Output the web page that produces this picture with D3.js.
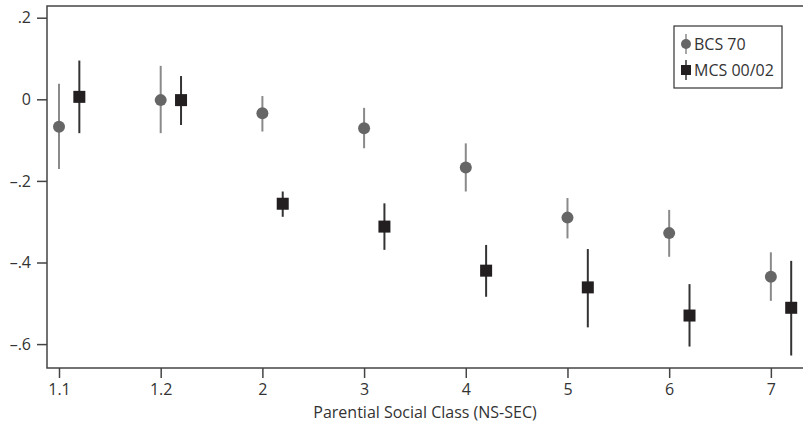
<!DOCTYPE html>
<html>
<head>
<meta charset="utf-8">
<script src="https://cdn.jsdelivr.net/npm/d3@7"></script>
<style>
  body { margin: 0; background: #fff; }
  text { font-family: "Open Sans", "Noto Sans", sans-serif; fill: #333; }
</style>
</head>
<body>
<svg id="chart"></svg>
<script>
// categories (NS-SEC)
const classes = ["1.1", "1.2", "2", "3", "4", "5", "6", "7"];

// BCS 70: estimate with lower / upper CI
const bcsEst = [-0.067, -0.002, -0.034, -0.071, -0.167, -0.290, -0.328, -0.435];
const bcsLo  = [-0.171, -0.083, -0.079, -0.120, -0.226, -0.341, -0.386, -0.494];
const bcsHi  = [ 0.038,  0.082,  0.008, -0.021, -0.108, -0.242, -0.271, -0.375];

// MCS 00/02
const mcsEst = [ 0.006, -0.002, -0.256, -0.312, -0.420, -0.461, -0.530, -0.511];
const mcsLo  = [-0.083, -0.063, -0.288, -0.369, -0.484, -0.559, -0.606, -0.628];
const mcsHi  = [ 0.095,  0.057, -0.226, -0.255, -0.357, -0.367, -0.453, -0.396];

const yTicks = [0.2, 0, -0.2, -0.4, -0.6];
const yLabels = [".2", "0", "\u2013.2", "\u2013.4", "\u2013.6"];

const width = 803, height = 434;
const margin = {top: 6, right: 0, bottom: 66, left: 47};

const svg = d3.select("#chart")
  .attr("width", width)
  .attr("height", height);

const x = d3.scaleLinear()
  .domain([-0.118, 7.316])
  .range([margin.left, width - margin.right]);
const y = d3.scaleLinear()
  .domain([-0.6586, 0.2287])
  .range([height - margin.bottom, margin.top]);

const offset = 0.2; // MCS shifted right of BCS

// frame
const frame = svg.append("g")
  .attr("stroke", "#444")
  .attr("stroke-width", 1.5)
  .attr("fill", "none");
frame.append("path")
  .attr("d", `M${width},${margin.top}H${margin.left}V${height - margin.bottom}H${width}`);

// y axis
const yAxis = g => g
  .attr("transform", `translate(${margin.left},0)`)
  .call(d3.axisLeft(y)
    .tickValues(yTicks)
    .tickSize(10)
    .tickPadding(6)
    .tickFormat((d, i) => yLabels[i]))
  .call(g => g.select(".domain").remove())
  .call(g => g.selectAll(".tick line").attr("stroke", "#444").attr("stroke-width", 1.5))
  .call(g => g.selectAll(".tick text")
    .attr("font-size", 16)
    .attr("font-family", "'Open Sans', sans-serif")
    .attr("fill", "#333"));

// x axis
const xAxis = g => g
  .attr("transform", `translate(0,${height - margin.bottom})`)
  .call(d3.axisBottom(x)
    .tickValues(d3.range(classes.length))
    .tickSize(10)
    .tickPadding(6)
    .tickFormat(i => classes[i]))
  .call(g => g.select(".domain").remove())
  .call(g => g.selectAll(".tick line").attr("stroke", "#444").attr("stroke-width", 1.5))
  .call(g => g.selectAll(".tick text")
    .attr("font-size", 16)
    .attr("font-family", "'Open Sans', sans-serif")
    .attr("fill", "#333"));

svg.append("g").call(yAxis);
svg.append("g").call(xAxis);

svg.append("text")
  .attr("x", (margin.left + width) / 2 - 0)
  .attr("y", 418)
  .attr("text-anchor", "middle")
  .attr("font-size", 16)
  .text("Parential Social Class (NS-SEC)");

// BCS 70
const bcs = svg.append("g");
bcs.selectAll("line")
  .data(classes)
  .join("line")
  .attr("x1", (d, i) => x(i))
  .attr("x2", (d, i) => x(i))
  .attr("y1", (d, i) => y(bcsLo[i]))
  .attr("y2", (d, i) => y(bcsHi[i]))
  .attr("stroke", "#8a8a8a")
  .attr("stroke-width", 2);
bcs.selectAll("circle")
  .data(classes)
  .join("circle")
  .attr("cx", (d, i) => x(i))
  .attr("cy", (d, i) => y(bcsEst[i]))
  .attr("r", 6)
  .attr("fill", "#666");

// MCS 00/02
const mcs = svg.append("g");
mcs.selectAll("line")
  .data(classes)
  .join("line")
  .attr("x1", (d, i) => x(i + offset))
  .attr("x2", (d, i) => x(i + offset))
  .attr("y1", (d, i) => y(mcsLo[i]))
  .attr("y2", (d, i) => y(mcsHi[i]))
  .attr("stroke", "#333")
  .attr("stroke-width", 2);
mcs.selectAll("rect")
  .data(classes)
  .join("rect")
  .attr("x", (d, i) => x(i + offset) - 6)
  .attr("y", (d, i) => y(mcsEst[i]) - 6)
  .attr("width", 12)
  .attr("height", 12)
  .attr("fill", "#231f20");

// legend
const legend = svg.append("g").attr("transform", "translate(674,26)");
legend.append("rect")
  .attr("width", 108).attr("height", 62)
  .attr("fill", "#fff").attr("stroke", "#333").attr("stroke-width", 1.2);
legend.append("line")
  .attr("x1", 12).attr("x2", 12).attr("y1", 8).attr("y2", 28)
  .attr("stroke", "#8a8a8a").attr("stroke-width", 1.5);
legend.append("circle")
  .attr("cx", 12).attr("cy", 18).attr("r", 5).attr("fill", "#666");
legend.append("text")
  .attr("x", 20).attr("y", 24).attr("font-size", 16).text("BCS 70");
legend.append("line")
  .attr("x1", 12).attr("x2", 12).attr("y1", 34).attr("y2", 54)
  .attr("stroke", "#333").attr("stroke-width", 1.5);
legend.append("rect")
  .attr("x", 7).attr("y", 39).attr("width", 10).attr("height", 10).attr("fill", "#231f20");
legend.append("text")
  .attr("x", 20).attr("y", 50).attr("font-size", 16).text("MCS 00/02");
</script>
</body>
</html>
